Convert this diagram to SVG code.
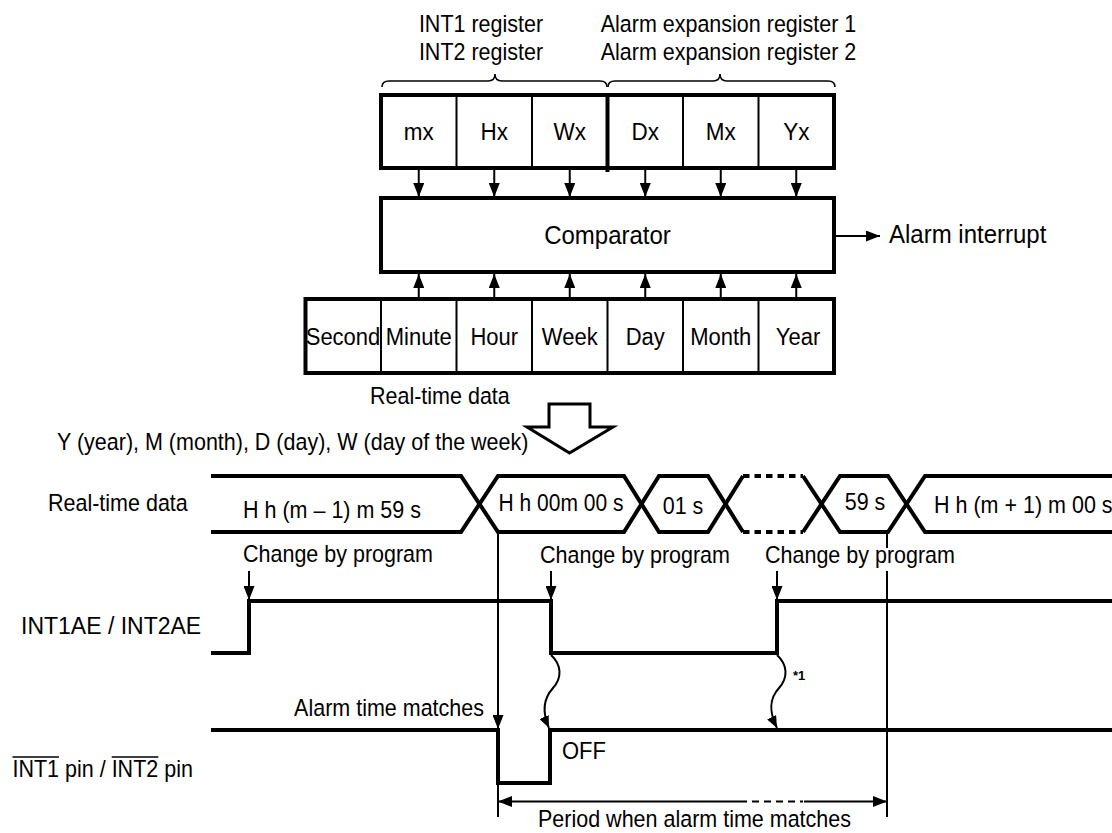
<svg xmlns="http://www.w3.org/2000/svg" width="1112" height="833" viewBox="0 0 1112 833">
<defs>
<style>
.t{font-family:"Liberation Sans",Arial,sans-serif;font-size:21.5px;fill:#000}
.m{text-anchor:middle}
.e{text-anchor:end}
.cell{font-size:22.5px}
.rt{font-size:22px}
.big{font-size:24px}
.box{fill:#fff;stroke:#000;stroke-width:4}
.thin{fill:none;stroke:#000;stroke-width:2}
.sig{fill:none;stroke:#000;stroke-width:4;stroke-linejoin:miter}
.brace{fill:none;stroke:#000;stroke-width:1.6}
</style>
<marker id="ah" markerWidth="14" markerHeight="11" refX="14" refY="5.5" orient="auto" markerUnits="userSpaceOnUse"><path d="M0,0 L14,5.5 L0,11 z" fill="#000"/></marker>
<marker id="ahs" markerWidth="12" markerHeight="10" refX="12" refY="5" orient="auto" markerUnits="userSpaceOnUse"><path d="M0,0 L12,5 L0,10 z" fill="#000"/></marker>
</defs>
<rect width="1112" height="833" fill="#fff"/>

<g id="register-labels">
<text class="t m" transform="translate(481,32) scale(1,1.1)">INT1 register</text>
<text class="t m" transform="translate(481,60) scale(1,1.1)">INT2 register</text>
<text class="t m" transform="translate(728.5,32) scale(1,1.1)">Alarm expansion register 1</text>
<text class="t m" transform="translate(728.5,60) scale(1,1.1)">Alarm expansion register 2</text>
<path class="brace" d="M382,87 Q382,81 389,81 H488 Q495,81 495,74 Q495,81 502,81 H600 Q607,81 607,87"/>
<path class="brace" d="M608,87 Q608,81 615,81 H713 Q720,81 720,74 Q720,81 727,81 H828 Q835,81 835,87"/>
</g>

<g id="alarm-registers">
<rect class="box" x="381" y="95" width="453" height="73"/>
<path class="thin" d="M456.5,95V168 M532,95V168 M683,95V168 M758.5,95V168"/>
<path fill="none" stroke="#000" stroke-width="4" d="M607.5,95V172"/>
<text class="t m cell" transform="translate(418.75,140) scale(1,1.08)">mx</text>
<text class="t m cell" transform="translate(494.25,140) scale(1,1.08)">Hx</text>
<text class="t m cell" transform="translate(569.75,140) scale(1,1.08)">Wx</text>
<text class="t m cell" transform="translate(645.25,140) scale(1,1.08)">Dx</text>
<text class="t m cell" transform="translate(720.75,140) scale(1,1.08)">Mx</text>
<text class="t m cell" transform="translate(796.25,140) scale(1,1.08)">Yx</text>
</g>

<g id="comparator">
<rect class="box" x="381" y="198" width="453" height="74"/>
<text class="t m big" transform="translate(607.5,244) scale(1,1.08)">Comparator</text>
</g>

<g id="alarm-interrupt">
<text class="t big" transform="translate(889,243) scale(1,1.05)">Alarm interrupt</text>
</g>

<g id="realtime-registers">
<rect class="box" x="305.5" y="299" width="528.5" height="74"/>
<path class="thin" d="M381,299V373 M456.5,299V373 M532,299V373 M607.5,299V373 M683,299V373 M758.5,299V373"/>
<text class="t m rt" transform="translate(343,345) scale(1,1.1)">Second</text>
<text class="t m rt" transform="translate(418.75,345) scale(1,1.1)">Minute</text>
<text class="t m rt" transform="translate(494.25,345) scale(1,1.1)">Hour</text>
<text class="t m rt" transform="translate(569.75,345) scale(1,1.1)">Week</text>
<text class="t m rt" transform="translate(645.25,345) scale(1,1.1)">Day</text>
<text class="t m rt" transform="translate(720.75,345) scale(1,1.1)">Month</text>
<text class="t m rt" transform="translate(798,345) scale(1,1.1)">Year</text>
<text class="t" transform="translate(370,404) scale(1,1.1)">Real-time data</text>
</g>

<g id="big-arrow">
<path d="M549,404 H590 V427 H613 L569.5,453 L527,427 H549 Z" fill="#fff" stroke="#000" stroke-width="3" stroke-linejoin="miter"/>
</g>

<g id="legend">
<text class="t" transform="translate(57,450) scale(1,1.1)">Y (year), M (month), D (day), W (day of the week)</text>
</g>

<g id="row-labels">
<text class="t" transform="translate(48,511) scale(1,1.1)">Real-time data</text>
<text class="t" style="font-size:23px" transform="translate(21,634) scale(1,1.05)">INT1AE / INT2AE</text>
<text class="t" transform="translate(12.5,777) scale(1,1.1)">INT1 pin / INT2 pin</text>
<path d="M12.5,757H59 M111.7,757H158.3" stroke="#000" stroke-width="1.6"/>
</g>

<g id="realtime-bus">
<path class="sig" d="M211,476 H461 L498,532 H624 L659,476 H708 L743,532"/>
<path class="sig" d="M211,532 H461 L498,476 H624 L659,532 H708 L743,476"/>
<path d="M743,476 H803 M743,532 H803" fill="none" stroke="#000" stroke-width="4" stroke-dasharray="6.5 5"/>
<path class="sig" d="M803,476 L840,532 H888 L925,476 H1112"/>
<path class="sig" d="M803,532 L840,476 H888 L925,532 H1112"/>
<text class="t m" transform="translate(332,518) scale(1,1.1)">H h (m – 1) m 59 s</text>
<text class="t m" style="font-size:21px" transform="translate(561,511) scale(1,1.1)">H h 00m 00 s</text>
<text class="t m" transform="translate(683,514) scale(1,1.1)">01 s</text>
<text class="t m" transform="translate(865,510) scale(1,1.1)">59 s</text>
<text class="t" transform="translate(934,513) scale(1,1.1)">H h (m + 1) m 00 s</text>
</g>

<g id="int-ae">
<path class="sig" d="M211,653 H249 V601 H551 V653 H777 V601 H1112"/>
<text class="t" transform="translate(243,562) scale(1,1.1)">Change by program</text>
<text class="t" transform="translate(540,563) scale(1,1.1)">Change by program</text>
<text class="t" transform="translate(765,563) scale(1,1.1)">Change by program</text>
<text class="t" style="font-size:13px;font-weight:bold" x="793" y="680">*1</text>
</g>

<g id="int-pin">
<path class="sig" d="M211,730 H498 V783 H550 V730 H1112"/>
<text class="t e" transform="translate(484,716) scale(1,1.1)">Alarm time matches</text>
<text class="t" style="font-size:22px" transform="translate(562,759) scale(1,1.1)">OFF</text>
<text class="t m" transform="translate(694.5,827) scale(1,1.1)">Period when alarm time matches</text>
</g>

<g id="connectors">
<path class="thin" marker-end="url(#ah)" d="M418.75,170V197"/>
<path class="thin" marker-end="url(#ah)" d="M494.25,170V197"/>
<path class="thin" marker-end="url(#ah)" d="M569.75,170V197"/>
<path class="thin" marker-end="url(#ah)" d="M645.25,170V197"/>
<path class="thin" marker-end="url(#ah)" d="M720.75,170V197"/>
<path class="thin" marker-end="url(#ah)" d="M796.25,170V197"/>
<path class="thin" marker-end="url(#ah)" d="M418.75,297V274"/>
<path class="thin" marker-end="url(#ah)" d="M494.25,297V274"/>
<path class="thin" marker-end="url(#ah)" d="M569.75,297V274"/>
<path class="thin" marker-end="url(#ah)" d="M645.25,297V274"/>
<path class="thin" marker-end="url(#ah)" d="M720.75,297V274"/>
<path class="thin" marker-end="url(#ah)" d="M796.25,297V274"/>
<path class="thin" marker-end="url(#ah)" d="M836,236H880"/>
<path class="thin" marker-end="url(#ah)" d="M249,571V600"/>
<path class="thin" marker-end="url(#ah)" d="M551,571V600"/>
<path class="thin" marker-end="url(#ah)" d="M777,571V600"/>
<path class="thin" d="M498,533V817"/>
<path class="thin" marker-end="url(#ah)" d="M498,700V729"/>
<path class="thin" d="M887,533V548 M887,571V817"/>
<path class="thin" marker-end="url(#ahs)" d="M551,655 C562,665 562,678 553,688 C544,698 541,710 549,728"/>
<path class="thin" marker-end="url(#ahs)" d="M777,655 C788,665 788,678 779,688 C770,698 768,710 777,728"/>
<path class="thin" marker-end="url(#ah)" d="M747,801.5H498"/>
<path class="thin" marker-end="url(#ah)" d="M804,801.5H887"/>
<path class="thin" stroke-dasharray="7 5" d="M752,801.5H803"/>
</g>
</svg>
